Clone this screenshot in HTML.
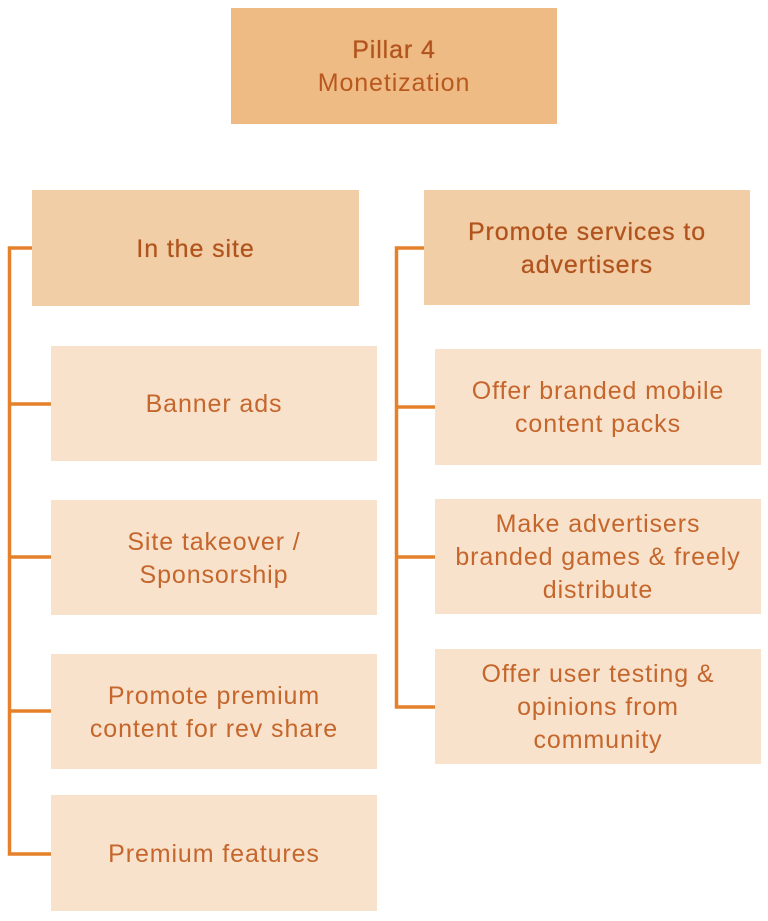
<!DOCTYPE html>
<html><head><meta charset="utf-8"><style>
html,body{margin:0;padding:0;background:#fff;}
body{width:768px;height:921px;position:relative;overflow:hidden;font-family:"Liberation Sans",Arial,sans-serif;}
.b{position:absolute;display:flex;align-items:center;justify-content:center;text-align:center;font-size:25px;line-height:33px;letter-spacing:0.9px;color:#C5662C;box-sizing:border-box;padding-top:2px;}
.top{background:#EFBB84;color:#B8581F;}
.hd{background:#F2CEA7;color:#B0531C;text-shadow:0 0 0.6px #B0531C;}
.ch{background:#F8E2CB;}
</style></head><body>
<svg width="768" height="921" style="position:absolute;left:0;top:0" xmlns="http://www.w3.org/2000/svg">
<g stroke="#E5812B" stroke-width="3.5" fill="none">
<polyline points="32,248 9.5,248 9.5,854 51,854"/>
<line x1="9.5" y1="404" x2="51" y2="404"/>
<line x1="9.5" y1="557" x2="51" y2="557"/>
<line x1="9.5" y1="711" x2="51" y2="711"/>
<polyline points="424,248 396.5,248 396.5,707 435,707"/>
<line x1="396.5" y1="407" x2="435" y2="407"/>
<line x1="396.5" y1="557" x2="435" y2="557"/>
</g>
</svg>
<div class="b top" style="left:231px;top:8px;width:326px;height:116px;"><div><div style="text-shadow:0 0 0.7px #B0531C;color:#B0531C">Pillar 4</div><div>Monetization</div></div></div>
<div class="b hd" style="left:32px;top:190px;width:327px;height:116px;">In the site</div>
<div class="b hd" style="left:424px;top:190px;width:326px;height:115px;">Promote services to<br>advertisers</div>
<div class="b ch" style="left:51px;top:346px;width:326px;height:115px;">Banner ads</div>
<div class="b ch" style="left:51px;top:500px;width:326px;height:115px;">Site takeover /<br>Sponsorship</div>
<div class="b ch" style="left:51px;top:654px;width:326px;height:115px;">Promote premium<br>content for rev share</div>
<div class="b ch" style="left:51px;top:795px;width:326px;height:116px;">Premium features</div>
<div class="b ch" style="left:435px;top:349px;width:326px;height:116px;">Offer branded mobile<br>content packs</div>
<div class="b ch" style="left:435px;top:499px;width:326px;height:115px;">Make advertisers<br>branded games &amp; freely<br>distribute</div>
<div class="b ch" style="left:435px;top:649px;width:326px;height:115px;">Offer user testing &amp;<br>opinions from<br>community</div>
</body></html>
